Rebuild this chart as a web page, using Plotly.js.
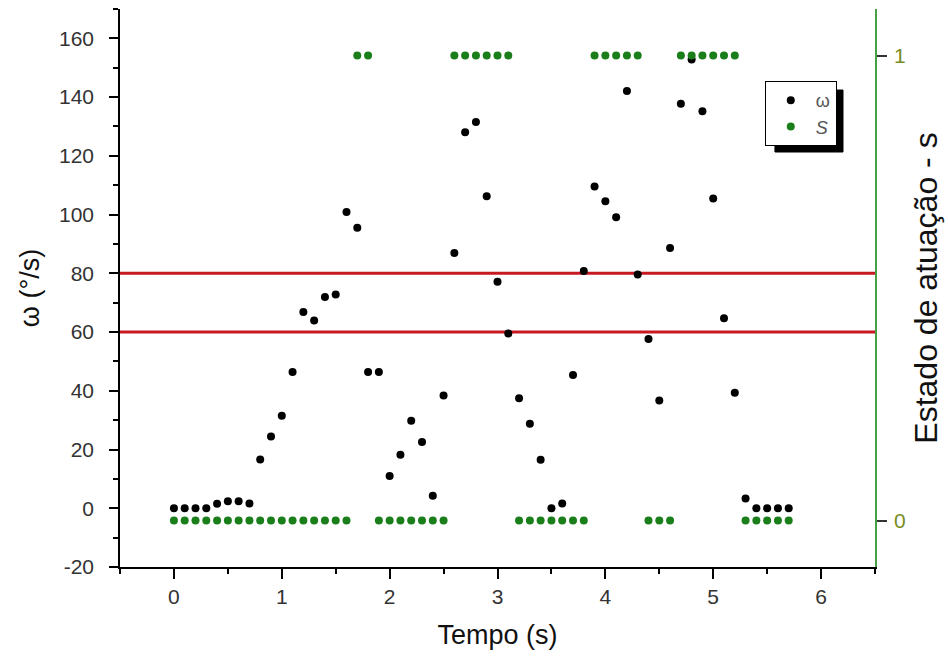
<!DOCTYPE html>
<html>
<head>
<meta charset="utf-8">
<script src="https://cdn.plot.ly/plotly-3.0.1.min.js"></script>
<style>html,body{margin:0;padding:0;background:#fff;}#chart{width:948px;height:664px;}</style>
</head>
<body>
<div id="chart"></div>
<script>
// Time (s)
const tempo = [0.0,0.1,0.2,0.3,0.4,0.5,0.6,0.7,0.8,0.9,
  1.0,1.1,1.2,1.3,1.4,1.5,1.6,1.7,1.8,1.9,
  2.0,2.1,2.2,2.3,2.4,2.5,2.6,2.7,2.8,2.9,
  3.0,3.1,3.2,3.3,3.4,3.5,3.6,3.7,3.8,3.9,
  4.0,4.1,4.2,4.3,4.4,4.5,4.6,4.7,4.8,4.9,
  5.0,5.1,5.2,5.3,5.4,5.5,5.6,5.7];
// Angular velocity ω (°/s)
const omega = [0,0,0,0,1.5,2.4,2.4,1.6,16.6,24.4,
  31.5,46.4,66.8,63.9,71.9,72.8,100.9,95.5,46.4,46.4,
  11.0,18.2,29.8,22.6,4.3,38.4,86.9,128.0,131.5,106.2,
  77.1,59.5,37.5,28.8,16.5,0,1.6,45.4,80.8,109.6,
  104.5,99.1,142.1,79.6,57.6,36.7,88.6,137.7,152.8,135.2,
  105.5,64.7,39.3,3.3,0,0,0,0];
// Actuation state s (0/1)
const estado = [0,0,0,0,0,0,0,0,0,0,
  0,0,0,0,0,0,0,1,1,0,
  0,0,0,0,0,0,1,1,1,1,
  1,1,0,0,0,0,0,0,0,1,
  1,1,1,1,0,0,0,1,1,1,
  1,1,1,0,0,0,0,0];
// Threshold lines (°/s)
const limiares = [60, 80];
// Tick labels
const yTickVals = [-20, 0, 20, 40, 60, 80, 100, 120, 140, 160];
const yTickText = ['-20', '0', '20', '40', '60', '80', '100', '120', '140', '160'];
const xTickVals = [0, 1, 2, 3, 4, 5, 6];
const xTickText = ['0', '1', '2', '3', '4', '5', '6'];
const sTickVals = [0, 1];
const sTickText = ['0', '1'];

const FONT = '"Liberation Sans", Arial, sans-serif';

const traces = [
  {x: tempo, y: omega, name: 'ω', type: 'scatter', mode: 'markers',
   marker: {color: '#000000', size: 8, symbol: 'circle'}, xaxis: 'x', yaxis: 'y'},
  {x: tempo, y: estado, name: '<i>S</i>', type: 'scatter', mode: 'markers',
   marker: {color: '#1a7f1a', size: 8, symbol: 'circle'}, xaxis: 'x', yaxis: 'y2'}
];

const shapes = limiares.map(v => ({
  type: 'line', xref: 'paper', x0: 0, x1: 1, yref: 'y', y0: v, y1: v,
  line: {color: 'rgb(200,25,35)', width: 3}, layer: 'below'
}));
// legend drop shadow
shapes.push({type: 'rect', xref: 'paper', yref: 'paper',
  x0: 0.8675, x1: 0.9576, y0: 0.7437, y1: 0.8548,
  fillcolor: '#000', line: {color: '#000', width: 1}, layer: 'above'});

const layout = {
  width: 948, height: 664,
  margin: {l: 120, r: 73, t: 9, b: 97},
  paper_bgcolor: '#fff', plot_bgcolor: 'rgba(0,0,0,0)',
  showlegend: true,
  shapes: shapes,
  legend: {x: 0.854, xanchor: 'left', y: 0.871, yanchor: 'top',
    bgcolor: '#fff', bordercolor: '#000', borderwidth: 1,
    font: {family: FONT, size: 18, color: '#555'}, itemwidth: 40},
  xaxis: {
    range: [-0.5, 6.5], tickvals: xTickVals, ticktext: xTickText,
    showgrid: false, zeroline: false,
    showline: true, linecolor: '#000', linewidth: 1.5,
    ticks: 'outside', ticklen: 10, tickwidth: 1.5, tickcolor: '#000',
    minor: {dtick: 0.5, tick0: 0, ticks: 'outside', ticklen: 5, tickwidth: 1.5, tickcolor: '#000'},
    tickfont: {family: FONT, size: 21, color: '#333'}, ticklabelstandoff: 0,
    title: {text: 'Tempo (s)', font: {family: FONT, size: 27, color: '#111'}, standoff: 18},
    automargin: false
  },
  xaxis2: {
    overlaying: 'x', side: 'top', anchor: 'y',
    range: [-0.5, 6.5], dtick: 1, tick0: 0,
    showgrid: false, zeroline: false, showticklabels: false,
    showline: true, linecolor: '#000', linewidth: 1.5,
    ticks: 'inside', ticklen: 10, tickwidth: 1.5, tickcolor: '#000',
    minor: {dtick: 0.5, tick0: 0, ticks: 'inside', ticklen: 6, tickwidth: 1.5, tickcolor: '#000'},
    automargin: false
  },
  yaxis: {
    range: [-20, 170], tickvals: yTickVals, ticktext: yTickText,
    showgrid: false, zeroline: false,
    showline: true, linecolor: '#000', linewidth: 1.5,
    ticks: 'outside', ticklen: 9, tickwidth: 1.5, tickcolor: '#000',
    minor: {dtick: 10, tick0: 0, ticks: 'outside', ticklen: 5, tickwidth: 1.5, tickcolor: '#000'},
    tickfont: {family: FONT, size: 21, color: '#333'}, ticklabelstandoff: 11,
    title: {text: 'ω (°/s)', font: {family: FONT, size: 27, color: '#111'}, standoff: 12},
    automargin: false
  },
  yaxis2: {
    overlaying: 'y', side: 'right', anchor: 'x',
    range: [-0.1, 1.1], tickvals: sTickVals, ticktext: sTickText,
    showgrid: false, zeroline: false,
    showline: true, linecolor: 'rgb(70,160,70)', linewidth: 1.5,
    ticks: 'outside', ticklen: 10, tickwidth: 1.5, tickcolor: '#333',
    tickfont: {family: FONT, size: 21, color: 'rgb(120,140,30)'}, ticklabelstandoff: 3,
    title: {text: 'Estado de atuação - s', font: {family: FONT, size: 32, color: '#111'}, standoff: 10},
    automargin: false
  }
};

Plotly.newPlot('chart', traces, layout, {displayModeBar: false, responsive: false});
</script>
</body>
</html>
